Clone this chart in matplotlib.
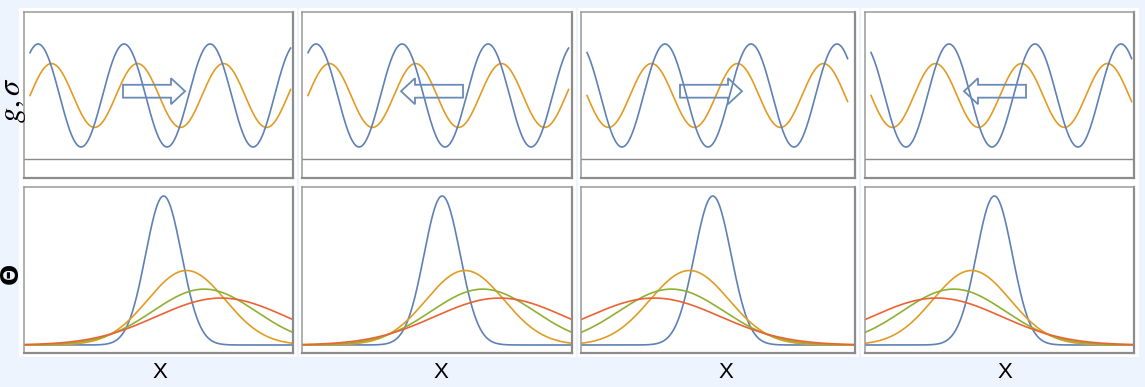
import numpy as np
import matplotlib
matplotlib.use("Agg")
import matplotlib.pyplot as plt
from matplotlib.patches import Rectangle, FancyArrow

W, H = 1145, 387

# colours (Mathematica-like default palette)
BLUE = "#5E81B5"
ORANGE = "#E19C24"
GREEN = "#8FB032"
RED = "#EB6235"
BG = "#EEF4FD"

# top row: sinusoids, t in periods
blue_phase = [0.094, 0.094, -0.093, -0.093]   # blue = cos(2pi(t - phase))
orange_sign = [1, 1, -1, -1]                  # orange = sign * amp * sin(2pi t)
orange_amp = 0.62
t_end = 3.03
baseline_top = -1.233
arrow_dir = [1, -1, 1, -1]                    # +1 right, -1 left

# bottom row: gaussian-like profiles (x in 0..10 over the panel width)
heights = [1.0, 0.50, 0.375, 0.315]
widths = [0.67, 1.44, 1.91, 2.41]
means_right = [5.19, 6.04, 6.70, 7.33]
means_left = [4.81, 3.96, 3.30, 2.67]
bottom_means = [means_right, means_right, means_left, means_left]
gauss_colors = [BLUE, ORANGE, GREEN, RED]

# layout in pixels
col_left = [24, 302, 581, 865]
col_right = [293, 572, 855, 1134]
top_row = (12, 178)
bot_row = (187, 353)
xlabel_x = [160, 441, 726, 1005]


def fig_rect(x0, y0, x1, y1):
    return [x0 / W, 1 - y1 / H, (x1 - x0) / W, (y1 - y0) / H]


fig = plt.figure(figsize=(W / 100, H / 100), dpi=100, facecolor=BG)

# white card behind the panels, with thin separators between columns
fig.add_artist(Rectangle((19 / W, 1 - 357 / H), (1139 - 19) / W, (357 - 8) / H,
                         transform=fig.transFigure, facecolor="white",
                         edgecolor="none", zorder=-10))
for i in range(3):
    xs = (col_right[i] + col_left[i + 1]) / 2
    fig.add_artist(Rectangle(((xs - 1) / W, 1 - 357 / H), 2 / W, (357 - 8) / H,
                             transform=fig.transFigure, facecolor=BG,
                             edgecolor="none", zorder=-9))


def style(ax):
    ax.set_xticks([])
    ax.set_yticks([])
    for s in ax.spines.values():
        s.set_color("#9a9a9a")
        s.set_linewidth(1.1)
    # faint drop shadow on right/bottom edges
    ax.spines["right"].set_color("#8c8c8c")
    ax.spines["bottom"].set_color("#8c8c8c")
    ax.spines["right"].set_linewidth(1.6)
    ax.spines["bottom"].set_linewidth(1.6)


t = np.linspace(0, t_end, 600)
xg = np.linspace(0, 10, 600)

for i in range(4):
    w = col_right[i] - col_left[i]

    # --- top panel ---
    ax = fig.add_axes(fig_rect(col_left[i], top_row[0], col_right[i], top_row[1]))
    style(ax)
    ax.plot(t, orange_sign[i] * orange_amp * np.sin(2 * np.pi * t), color=ORANGE, lw=1.2)
    ax.plot(t, np.cos(2 * np.pi * (t - blue_phase[i])), color=BLUE, lw=1.2)
    ax.axhline(baseline_top, color="#8a8a8a", lw=1.0)
    ax.set_xlim(-6 / 86, (w - 6) / 86)
    ax.set_ylim(-1.602, 1.621)

    x_lo, x_hi = (99 - 6) / 86, (161 - 6) / 86
    if arrow_dir[i] > 0:
        start, length = x_lo, x_hi - x_lo
    else:
        start, length = x_hi, -(x_hi - x_lo)
    ax.add_patch(FancyArrow(start, 0.083, length, 0, width=0.25, head_width=0.505,
                            head_length=14 / 86, length_includes_head=True,
                            facecolor="none", edgecolor="#6a8bb5", lw=1.3, zorder=5))

    # --- bottom panel ---
    ax = fig.add_axes(fig_rect(col_left[i], bot_row[0], col_right[i], bot_row[1]))
    style(ax)
    for h, s, m, c in zip(heights, widths, bottom_means[i], gauss_colors):
        ax.plot(xg, h * np.exp(-(xg - m) ** 2 / (2 * s ** 2)), color=c, lw=1.2)
    ax.set_xlim(0, 10)
    ax.set_ylim(-8 / 149, 158 / 149)

    fig.text(xlabel_x[i] / W, 1 - 372 / H, "X", ha="center", va="center",
             fontsize=16, family="Liberation Sans")

plt.rcParams["mathtext.fontset"] = "stix"
fig.text(13 / W, 1 - 100 / H, r"$g, \sigma$", rotation=90, ha="center", va="center",
         fontsize=22)
fig.text(11 / W, 1 - 273 / H, "\u0398", rotation=90, ha="center", va="center",
         fontsize=18, family="DejaVu Sans", fontweight="bold")

fig.savefig("out.png", dpi=100, facecolor=BG)
